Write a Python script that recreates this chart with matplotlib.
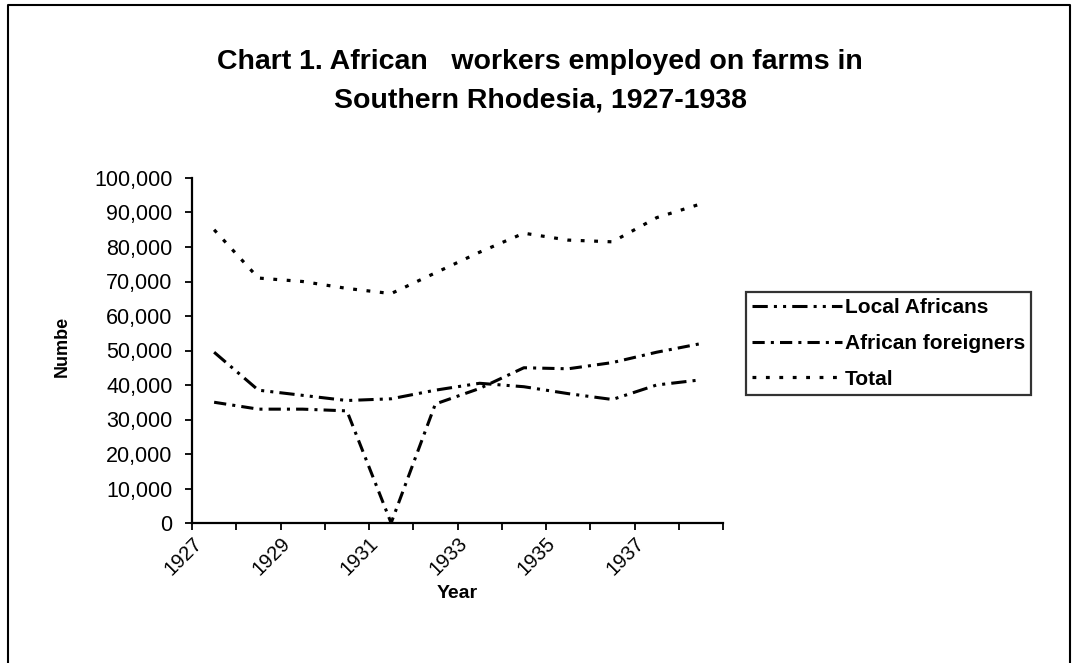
import numpy as np
import matplotlib
matplotlib.use("Agg")
import matplotlib.pyplot as plt
from matplotlib.lines import Line2D

plt.rcParams['font.family'] = ['Liberation Sans', 'DejaVu Sans']

# values
years = [1927, 1928, 1929, 1930, 1931, 1932, 1933, 1934, 1935, 1936, 1937, 1938]
local_africans = [49500, 38500, 37000, 35500, 36000, 38500, 40500, 39500, 37500, 35800, 40000, 41500]
african_foreigners = [35000, 33000, 33000, 32500, 0, 34500, 39000, 45000, 44700, 46500, 49500, 52000]
total = [85000, 71000, 70000, 68000, 66500, 72500, 78500, 84000, 82000, 81500, 88500, 92500]
series_names = ["Local Africans", "African foreigners", "Total"]

W, H = 1077, 663
fig = plt.figure(figsize=(W / 100, H / 100), dpi=100)

# outer frame of the scanned chart (bottom edge is cut off)
frame = Line2D([8 / W, 8 / W, 1070 / W, 1070 / W], [0, 1 - 5 / H, 1 - 5 / H, 0],
               transform=fig.transFigure, color='black', lw=1.5)
fig.add_artist(frame)

ax = fig.add_axes([192 / W, 1 - 523 / H, (723 - 192) / W, (523 - 178) / H])
x = np.arange(len(years))

ax.plot(x, local_africans, color='black', lw=2.2, dashes=(5, 2, 1, 2, 1, 2),
        label=series_names[0])
ax.plot(x, african_foreigners, color='black', lw=2.2, dashes=(4, 2, 1, 2),
        label=series_names[1])
ax.plot(x, total, color='black', lw=2.3, dashes=(1.2, 3.0), label=series_names[2])

ax.set_xlim(-0.5, len(years) - 0.5)
ax.set_ylim(0, 100000)
ax.set_yticks(np.arange(0, 100001, 10000))
ax.set_yticklabels([f"{v:,}" for v in range(0, 100001, 10000)], fontsize=15.5)

# category boundaries carry the ticks; every other one is labelled
bounds = np.arange(-0.5, len(years), 1.0)
ax.set_xticks(bounds)
ax.set_xticklabels([str(years[i]) if i % 2 == 0 and i < len(years) else ''
                    for i in range(len(bounds))],
                   rotation=45, ha='right', rotation_mode='anchor', fontsize=14.5)

for side in ['top', 'right']:
    ax.spines[side].set_visible(False)
for side in ['left', 'bottom']:
    ax.spines[side].set_linewidth(1.6)
ax.tick_params(direction='out', length=5, width=1.3)
ax.tick_params(axis='y', pad=9)
ax.tick_params(axis='x', pad=3)

fig.text(457 / W, 1 - 594 / H, "Year", fontsize=14, fontweight='bold',
         ha='center', va='center')
fig.text(62 / W, 1 - 346 / H, "Numbe", rotation=90, fontsize=13, fontweight='bold',
         ha='center', va='center')

fig.text(540 / W, 1 - 62 / H, "Chart 1. African   workers employed on farms in",
         fontsize=20.5, fontweight='bold', ha='center', va='center')
fig.text(540 / W, 1 - 101 / H, "Southern Rhodesia, 1927-1938",
         fontsize=20.5, fontweight='bold', ha='center', va='center')

leg = fig.legend(loc='upper left', bbox_to_anchor=(746 / W, 1 - 292 / H),
                 prop={'weight': 'bold', 'size': 15}, frameon=True, fancybox=False,
                 handlelength=4.3, handletextpad=0.15, labelspacing=0.8,
                 borderpad=0.3, borderaxespad=0)
leg.get_frame().set_edgecolor('black')
leg.get_frame().set_linewidth(1.6)

fig.savefig("out.png", dpi=100)
